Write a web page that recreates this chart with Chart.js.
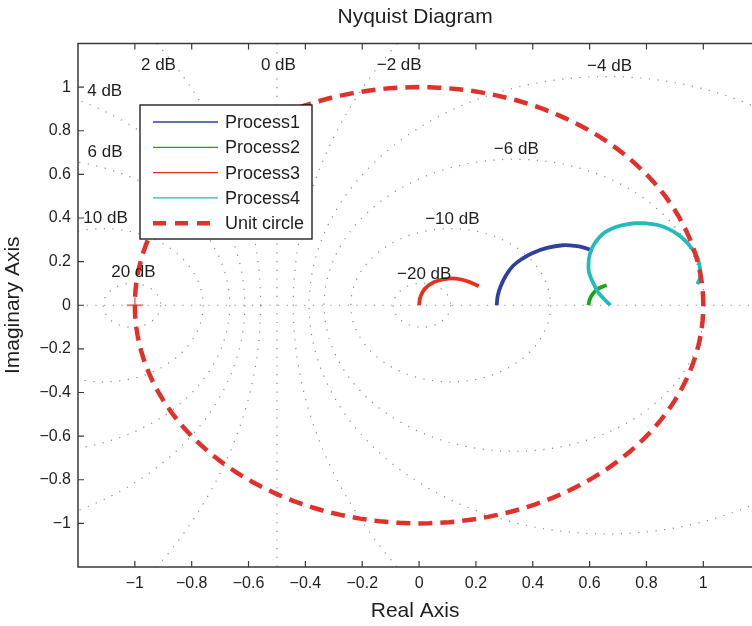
<!DOCTYPE html>
<html>
<head>
<meta charset="utf-8">
<script src="https://cdn.jsdelivr.net/npm/chart.js@4/dist/chart.umd.min.js"></script>
<style>
  html, body { margin: 0; padding: 0; background: #fff; overflow: hidden; }
  canvas { display: block; }
</style>
</head>
<body>
<canvas id="chart1" width="762" height="626"></canvas>
<script>
// tick values
const xTicks = [-1, -0.8, -0.6, -0.4, -0.2, 0, 0.2, 0.4, 0.6, 0.8, 1];
const yTicks = [-1, -0.8, -0.6, -0.4, -0.2, 0, 0.2, 0.4, 0.6, 0.8, 1];

// M-circle levels (closed loop gain, dB) and where their labels sit
const dbLevels = [20, 10, 6, 4, 2, 0, -2, -4, -6, -10, -20];
const dbLabelX = [-1.005, -1.103, -1.105, -1.106, -0.917, -0.495, -0.07, 0.67, 0.342, 0.117, 0.018];
const dbLabelY = [0.149, 0.397, 0.699, 0.983, 1.10, 1.10, 1.10, 1.097, 0.717, 0.392, 0.144];

// process curves (real / imaginary parts)
const p1Re = [0.273, 0.277, 0.287, 0.305, 0.33, 0.365, 0.40, 0.45, 0.505, 0.55, 0.586, 0.61];
const p1Im = [0.0, 0.045, 0.087, 0.135, 0.18, 0.215, 0.24, 0.263, 0.275, 0.272, 0.262, 0.25];

const p2Re = [0.596, 0.60, 0.61, 0.627, 0.645, 0.66];
const p2Im = [0.0, 0.025, 0.05, 0.073, 0.085, 0.092];

const p3Re = [0.0, 0.005, 0.02, 0.05, 0.09, 0.13, 0.17, 0.21];
const p3Im = [0.0, 0.04, 0.075, 0.105, 0.12, 0.122, 0.11, 0.087];

const p4Re = [0.673, 0.65, 0.63, 0.61, 0.598, 0.596, 0.60, 0.61, 0.63, 0.655, 0.69, 0.726, 0.76, 0.796, 0.84, 0.877, 0.91, 0.937, 0.96, 0.979, 0.99, 0.987, 0.979];
const p4Im = [0.0, 0.03, 0.06, 0.11, 0.15, 0.19, 0.23, 0.266, 0.305, 0.335, 0.358, 0.37, 0.376, 0.376, 0.368, 0.35, 0.325, 0.295, 0.26, 0.22, 0.155, 0.12, 0.097];

// critical point
const critRe = [-1];
const critIm = [0];

// unit circle |G| = 1
const unitRe = [];
const unitIm = [];
for (let deg = 0; deg <= 360; deg += 2) {
  unitRe.push(Math.cos(deg * Math.PI / 180));
  unitIm.push(Math.sin(deg * Math.PI / 180));
}

const FONT = "'Liberation Sans', Arial, Helvetica, sans-serif";
const TEXT = "#1f1f1f";

function toPoints(xs, ys) {
  return xs.map((x, i) => ({ x: x, y: ys[i] }));
}

function fmt(v) {
  const s = String(Number(Math.abs(v).toFixed(1)));
  return v < -1e-9 ? "\u2212" + s : s;
}

document.addEventListener("DOMContentLoaded", () => {
  const series = [
    { label: "Process1", re: p1Re, im: p1Im, color: "#2e41a0", order: 4 },
    { label: "Process2", re: p2Re, im: p2Im, color: "#16a616", order: 3 },
    { label: "Process3", re: p3Re, im: p3Im, color: "#e3321f", order: 2 },
    { label: "Process4", re: p4Re, im: p4Im, color: "#22bcbc", order: 1 },
  ];

  const datasets = series.map((s) => ({
    label: s.label,
    data: toPoints(s.re, s.im),
    showLine: true,
    borderColor: s.color,
    backgroundColor: s.color,
    borderWidth: 3.8,
    pointRadius: 0,
    tension: 0.4,
    order: s.order,
  }));

  datasets.push({
    label: "Unit circle",
    data: toPoints(unitRe, unitIm),
    showLine: true,
    borderColor: "#e2302a",
    borderWidth: 4.5,
    borderDash: [14, 8],
    pointRadius: 0,
    tension: 0,
    order: 0,
  });

  datasets.push({
    label: "critical",
    data: toPoints(critRe, critIm),
    showLine: false,
    pointStyle: "cross",
    pointRadius: 8,
    borderWidth: 1.8,
    borderColor: "#f07a7a",
    order: 5,
  });

  // dotted M-circles, drawn under the curves
  const gridPlugin = {
    id: "mgrid",
    beforeDatasetsDraw(chart) {
      const { ctx, chartArea: a, scales } = chart;
      const xs = scales.x, ys = scales.y;
      const kx = xs.getPixelForValue(1) - xs.getPixelForValue(0);
      const ky = ys.getPixelForValue(0) - ys.getPixelForValue(1);
      ctx.save();
      ctx.beginPath();
      ctx.rect(a.left, a.top, a.right - a.left, a.bottom - a.top);
      ctx.clip();
      ctx.strokeStyle = "#8c8c8c";
      ctx.lineWidth = 1.2;
      ctx.setLineDash([1.2, 7.5]);

      // real axis
      ctx.beginPath();
      ctx.moveTo(a.left, ys.getPixelForValue(0));
      ctx.lineTo(a.right, ys.getPixelForValue(0));
      ctx.stroke();

      dbLevels.forEach((db) => {
        const m = Math.pow(10, db / 20);
        ctx.beginPath();
        if (db === 0) {
          const px = xs.getPixelForValue(-0.5);
          ctx.moveTo(px, a.top);
          ctx.lineTo(px, a.bottom);
        } else {
          const m2 = m * m;
          const c = -m2 / (m2 - 1);
          const r = Math.abs(m / (m2 - 1));
          ctx.ellipse(xs.getPixelForValue(c), ys.getPixelForValue(0), r * kx, r * ky, 0, 0, 2 * Math.PI);
        }
        ctx.stroke();
      });
      ctx.restore();
    },
    afterDatasetsDraw(chart) {
      const { ctx, chartArea: a, scales } = chart;
      const xs = scales.x, ys = scales.y;
      ctx.save();

      // dB labels
      ctx.fillStyle = TEXT;
      ctx.font = "17px " + FONT;
      ctx.textAlign = "center";
      ctx.textBaseline = "middle";
      dbLevels.forEach((db, i) => {
        const txt = (db < 0 ? "\u2212" + Math.abs(db) : String(db)) + " dB";
        ctx.fillText(txt, xs.getPixelForValue(dbLabelX[i]), ys.getPixelForValue(dbLabelY[i]));
      });

      // axes frame with inward ticks
      ctx.strokeStyle = "#3a3a3a";
      ctx.lineWidth = 1.5;
      ctx.setLineDash([]);
      ctx.beginPath();
      ctx.moveTo(a.right, a.top);
      ctx.lineTo(a.left, a.top);
      ctx.lineTo(a.left, a.bottom);
      ctx.lineTo(a.right, a.bottom);
      ctx.stroke();

      ctx.lineWidth = 1.2;
      ctx.beginPath();
      xTicks.forEach((v) => {
        const px = xs.getPixelForValue(v);
        ctx.moveTo(px, a.top);
        ctx.lineTo(px, a.top + 6);
        ctx.moveTo(px, a.bottom);
        ctx.lineTo(px, a.bottom - 6);
      });
      yTicks.forEach((v) => {
        const py = ys.getPixelForValue(v);
        ctx.moveTo(a.left, py);
        ctx.lineTo(a.left + 6, py);
      });
      ctx.stroke();
      ctx.restore();
    },
    afterDraw(chart) {
      // legend box
      const { ctx } = chart;
      const box = { left: 140, top: 105, right: 312, bottom: 239 };
      ctx.save();
      ctx.fillStyle = "#fff";
      ctx.fillRect(box.left, box.top, box.right - box.left, box.bottom - box.top);
      ctx.strokeStyle = "#111";
      ctx.lineWidth = 1.3;
      ctx.strokeRect(box.left, box.top, box.right - box.left, box.bottom - box.top);

      const rows = datasets.filter((d) => d.label !== "critical");
      ctx.font = "18px " + FONT;
      ctx.textAlign = "left";
      ctx.textBaseline = "middle";
      rows.forEach((d, i) => {
        const yRow = 122 + i * 25.3;
        ctx.strokeStyle = d.borderColor;
        if (d.borderDash) {
          ctx.lineWidth = 4.5;
          ctx.setLineDash([13, 9]);
        } else {
          ctx.lineWidth = 1.3;
          ctx.setLineDash([]);
        }
        ctx.beginPath();
        ctx.moveTo(153, yRow);
        ctx.lineTo(218, yRow);
        ctx.stroke();
        ctx.fillStyle = TEXT;
        ctx.fillText(d.label, 225, yRow + 1);
      });
      ctx.restore();
    },
  };

  const ctx = document.getElementById("chart1").getContext("2d");
  new Chart(ctx, {
    type: "scatter",
    data: { datasets },
    plugins: [gridPlugin],
    options: {
      responsive: false,
      animation: false,
      layout: { padding: 0 },
      plugins: {
        legend: { display: false },
        tooltip: { enabled: false },
        title: {
          display: true,
          text: "Nyquist Diagram",
          fullSize: false,
          color: TEXT,
          font: { family: FONT, size: 21, weight: "normal" },
          padding: { top: 5, bottom: 13.3 },
        },
      },
      scales: {
        x: {
          type: "linear",
          min: -1.2,
          max: 1.172,
          grid: { display: false, drawTicks: false },
          border: { display: false },
          afterBuildTicks: (scale) => {
            scale.ticks = xTicks.map((v) => ({ value: v }));
          },
          afterFit: (scale) => {
            scale.height = 59;
          },
          ticks: {
            padding: 7,
            maxRotation: 0,
            color: TEXT,
            font: { family: FONT, size: 16 },
            callback: (v) => fmt(v),
          },
          title: {
            display: true,
            text: "Real Axis",
            color: TEXT,
            font: { family: FONT, size: 21 },
            padding: { top: 0, bottom: 2.4 },
          },
        },
        y: {
          type: "linear",
          min: -1.2,
          max: 1.2,
          grid: { display: false, drawTicks: false },
          border: { display: false },
          afterBuildTicks: (scale) => {
            scale.ticks = yTicks.map((v) => ({ value: v }));
          },
          afterFit: (scale) => {
            scale.width = 78;
          },
          ticks: {
            padding: 7,
            color: TEXT,
            font: { family: FONT, size: 16 },
            callback: (v) => fmt(v),
          },
          title: {
            display: true,
            text: "Imaginary Axis",
            color: TEXT,
            font: { family: FONT, size: 21 },
            padding: { top: 1, bottom: 0 },
          },
        },
      },
    },
  });
});
</script>
</body>
</html>
